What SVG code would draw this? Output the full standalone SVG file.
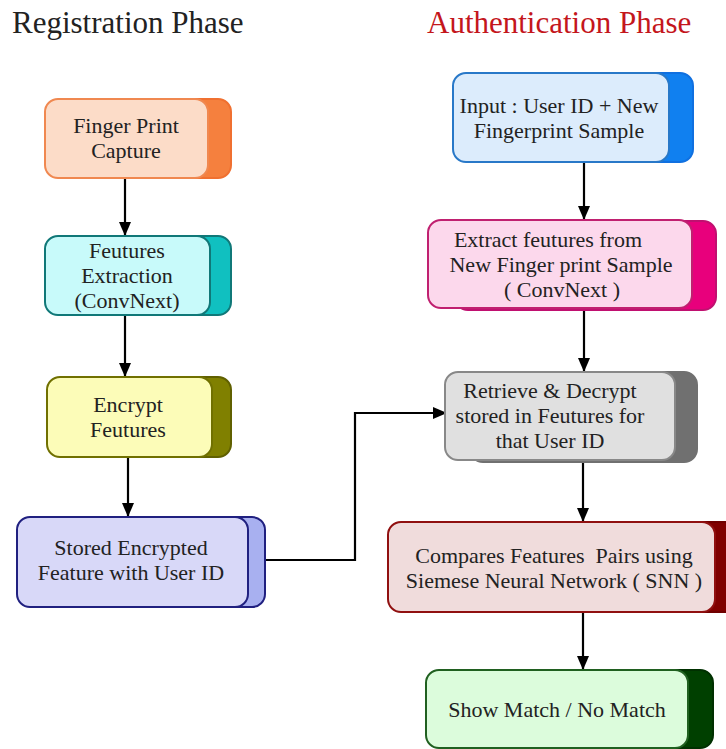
<svg xmlns="http://www.w3.org/2000/svg" width="726" height="749" viewBox="0 0 726 749">
<style>
text{font-family:"Liberation Serif","Times New Roman",serif;font-size:22px;fill:#222;text-anchor:middle;white-space:pre}
.title{font-size:31px;text-anchor:start}
.f{stroke-width:2}
.b{stroke-width:2}
.c{fill:none;stroke:#000;stroke-width:2.2}
</style>
<defs>
<marker id="ah" markerWidth="14" markerHeight="12" refX="13" refY="6" orient="auto" markerUnits="userSpaceOnUse">
<path d="M0,0 L14,6 L0,12 Z" fill="#000"/>
</marker>
</defs>
<rect width="726" height="749" fill="#fff"/>
<text class="title" x="12" y="33" fill="#222">Registration Phase</text>
<text class="title" x="427" y="33" style="fill:#c4161c">Authentication Phase</text>

<g id="connectors">
<line class="c" x1="125" y1="179" x2="125" y2="235" marker-end="url(#ah)"/>
<line class="c" x1="125" y1="316" x2="125" y2="376" marker-end="url(#ah)"/>
<line class="c" x1="128" y1="458" x2="128" y2="516" marker-end="url(#ah)"/>
<polyline class="c" points="265,560 355,560 355,413 446,413" marker-end="url(#ah)"/>
<line class="c" x1="584" y1="163" x2="584" y2="219" marker-end="url(#ah)"/>
<line class="c" x1="584" y1="309" x2="584" y2="371" marker-end="url(#ah)"/>
<line class="c" x1="583" y1="461" x2="583" y2="521" marker-end="url(#ah)"/>
<line class="c" x1="583" y1="613" x2="583" y2="669" marker-end="url(#ah)"/>
</g>

<g id="n1">
<rect x="70" y="99" width="161" height="79" rx="13" fill="#f5803e" stroke="#f07030" class="b"/>
<rect x="45" y="99" width="163" height="79" rx="13" fill="#fcdcc8" stroke="#f08850" class="f"/>
<text x="126" y="133">Finger Print</text>
<text x="126" y="158">Capture</text>
</g>

<g id="n2">
<rect x="70" y="236" width="161" height="79" rx="13" fill="#10c0c0" stroke="#107878" class="b"/>
<rect x="45" y="236" width="165" height="79" rx="13" fill="#c8fafa" stroke="#107878" class="f"/>
<text x="127" y="258">Feutures</text>
<text x="127" y="283">Extraction</text>
<text x="127" y="308">(ConvNext)</text>
</g>

<g id="n3">
<rect x="70" y="377" width="161" height="80" rx="13" fill="#808000" stroke="#606000" class="b"/>
<rect x="47" y="377" width="165" height="80" rx="13" fill="#fcfcb8" stroke="#707000" class="f"/>
<text x="128" y="412">Encrypt</text>
<text x="128" y="437">Feutures</text>
</g>

<g id="n4">
<rect x="40" y="517" width="225" height="90" rx="13" fill="#a8b0f0" stroke="#202080" class="b"/>
<rect x="17" y="517" width="231" height="90" rx="13" fill="#d8d8f8" stroke="#202080" class="f"/>
<text x="131" y="555">Stored Encrypted</text>
<text x="131" y="580">Feature with User ID</text>
</g>

<g id="n5">
<rect x="480" y="73" width="213" height="89" rx="13" fill="#1080f0" stroke="#1070e0" class="b"/>
<rect x="453" y="73" width="216" height="89" rx="13" fill="#dcecfc" stroke="#2878c8" class="f"/>
<text x="559" y="113">Input : User ID + New</text>
<text x="559" y="138">Fingerprint Sample</text>
</g>

<g id="n6">
<rect x="455" y="221" width="261" height="89" rx="13" fill="#e8007c" stroke="#c01070" class="b"/>
<rect x="428" y="220" width="264" height="88" rx="13" fill="#fcd8ec" stroke="#c02070" class="f"/>
<text x="548" y="247">Extract feutures from</text>
<text x="561" y="272">New Finger print Sample</text>
<text x="562" y="297">( ConvNext )</text>
</g>

<g id="n7">
<rect x="470" y="372" width="227" height="90" rx="13" fill="#707070" stroke="#707070" class="b"/>
<rect x="445" y="372" width="230" height="88" rx="13" fill="#e0e0e0" stroke="#888888" class="f"/>
<text x="550" y="398">Retrieve &amp; Decrypt</text>
<text x="550" y="423">stored in Feutures for</text>
<text x="550" y="448">that User ID</text>
</g>

<g id="n8">
<rect x="415" y="522" width="330" height="90" rx="13" fill="#800000" stroke="#700000" class="b"/>
<rect x="388" y="522" width="327" height="90" rx="13" fill="#f0dcdc" stroke="#901010" class="f"/>
<text x="554" y="563" xml:space="preserve">Compares Features  Pairs using</text>
<text x="554" y="588">Siemese Neural Network ( SNN )</text>
</g>

<g id="n9">
<rect x="455" y="670" width="258" height="78" rx="13" fill="#004000" stroke="#003000" class="b"/>
<rect x="426" y="670" width="262" height="78" rx="13" fill="#dcfcdc" stroke="#206020" class="f"/>
<text x="557" y="717">Show Match / No Match</text>
</g>
</svg>
